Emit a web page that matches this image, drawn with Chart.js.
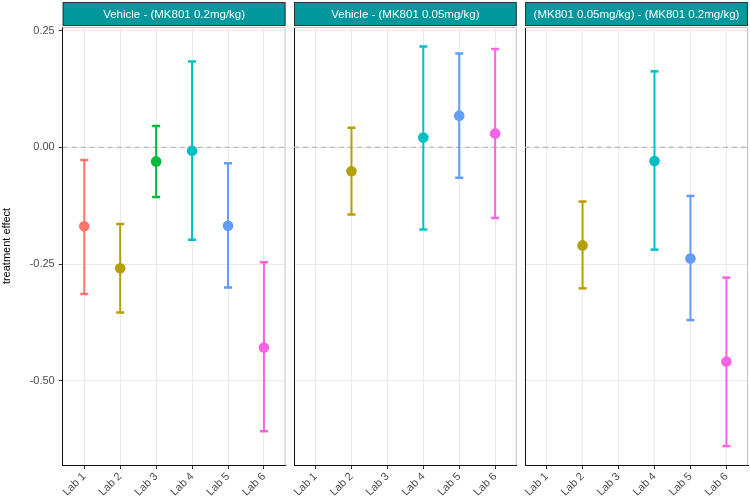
<!DOCTYPE html>
<html>
<head>
<meta charset="utf-8">
<script src="https://cdn.jsdelivr.net/npm/chart.js@4/dist/chart.umd.min.js"></script>
<style>
  html, body { margin: 0; padding: 0; background: #fff; }
  #wrap { position: relative; width: 750px; height: 501px; overflow: hidden; }
  canvas { position: absolute; top: 0; }
</style>
</head>
<body>
<div id="wrap">
  <canvas id="c1" width="290" height="501" style="left:0px"></canvas>
  <canvas id="c2" width="260" height="501" style="left:264px"></canvas>
  <canvas id="c3" width="255" height="501" style="left:495px"></canvas>
</div>
<script>
// ---- data ----
const labs = ['Lab 1', 'Lab 2', 'Lab 3', 'Lab 4', 'Lab 5', 'Lab 6'];
const panelTitles = ['Vehicle - (MK801 0.2mg/kg)', 'Vehicle - (MK801 0.05mg/kg)', '(MK801 0.05mg/kg) - (MK801 0.2mg/kg)'];
const yTicks = [-0.5, -0.25, 0, 0.25];

const est1 = [-0.169, -0.259, -0.030, -0.007, -0.168, -0.429];
const lo1  = [-0.314, -0.354, -0.106, -0.198, -0.300, -0.608];
const hi1  = [-0.027, -0.164,  0.046,  0.184, -0.034, -0.246];

const est2 = [null, -0.051, null,  0.021,  0.068,  0.030];
const lo2  = [null, -0.144, null, -0.176, -0.065, -0.151];
const hi2  = [null,  0.042, null,  0.216,  0.201,  0.211];

const est3 = [null, -0.210, null, -0.029, -0.238, -0.459];
const lo3  = [null, -0.302, null, -0.219, -0.370, -0.640];
const hi3  = [null, -0.116, null,  0.163, -0.104, -0.279];

// ---- styles ----
const labColors = ['#F8766D', '#B79F00', '#00BA38', '#00BFC4', '#619CFF', '#F564E3'];
const FONT = "'Liberation Sans', Arial, sans-serif";
Chart.defaults.font.family = FONT;
Chart.defaults.animation = false;

const Y_MIN = -0.6805, Y_MAX = 0.258;
const X_MIN = -0.6, X_MAX = 5.6;

const stripPlugin = {
  id: 'strip',
  beforeDatasetsDraw(chart, args, opts) {
    const a = chart.chartArea, ctx = chart.ctx;
    ctx.save();
    ctx.strokeStyle = '#c4c4c4';
    ctx.lineWidth = 1;
    ctx.beginPath();
    ctx.moveTo(a.left, a.top + 0.5);
    ctx.lineTo(a.right - 0.5, a.top + 0.5);
    ctx.lineTo(a.right - 0.5, a.bottom);
    ctx.stroke();
    ctx.restore();
  },
  afterDraw(chart, args, opts) {
    const a = chart.chartArea, ctx = chart.ctx;
    ctx.save();
    ctx.fillStyle = '#02989D';
    ctx.fillRect(a.left, 2, a.right - a.left, 24);
    ctx.strokeStyle = '#333333';
    ctx.lineWidth = 1;
    ctx.strokeRect(a.left + 0.5, 2.5, a.right - a.left - 1, 23);
    ctx.fillStyle = '#ffffff';
    ctx.font = '11.5px ' + FONT;
    ctx.textAlign = 'center';
    ctx.textBaseline = 'middle';
    ctx.fillText(opts.title, (a.left + a.right) / 2, 14.5);
    ctx.restore();
  }
};

function buildDatasets(est, lo, hi) {
  const ds = [];
  const pts = [], ptCols = [];
  est.forEach((v, i) => {
    if (v !== null) { pts.push({x: i, y: v}); ptCols.push(labColors[i]); }
  });
  ds.push({
    data: pts, showLine: false, pointRadius: 5.3, pointHoverRadius: 5.3,
    pointBackgroundColor: ptCols, pointBorderColor: ptCols, pointBorderWidth: 0,
    order: 0
  });
  est.forEach((v, i) => {
    if (v === null) return;
    ds.push({
      data: [{x: i, y: lo[i]}, {x: i, y: hi[i]}],
      borderColor: labColors[i], borderWidth: 2,
      pointStyle: 'line', pointRadius: 4, pointHoverRadius: 4,
      pointBorderColor: labColors[i], pointBorderWidth: 2.5,
      order: 1
    });
  });
  ds.push({
    data: [{x: X_MIN, y: 0}, {x: X_MAX, y: 0}],
    borderColor: '#b8b8b8', borderWidth: 1.2, borderDash: [5, 4],
    pointRadius: 0, order: 2
  });
  return ds;
}

function makeChart(id, title, est, lo, hi, first, padL, padR) {
  return new Chart(document.getElementById(id), {
    type: 'line',
    data: { datasets: buildDatasets(est, lo, hi) },
    plugins: [stripPlugin],
    options: {
      responsive: false,
      animation: false,
      events: [],
      layout: { autoPadding: false, padding: { left: padL, right: padR, top: 27, bottom: 0 } },
      plugins: {
        legend: { display: false },
        tooltip: { enabled: false },
        strip: { title: title }
      },
      scales: {
        x: {
          type: 'linear', min: X_MIN, max: X_MAX,
          afterBuildTicks: s => { s.ticks = labs.map((l, i) => ({ value: i })); },
          afterFit: s => { s.height = 36; s.paddingLeft = 0; s.paddingRight = 0; },
          ticks: {
            autoSkip: false, minRotation: 45, maxRotation: 45,
            color: '#4d4d4d', font: { size: 11 }, padding: 1,
            callback: v => labs[v]
          },
          grid: { color: '#ebebeb', lineWidth: 1, tickLength: 4, tickColor: '#333333', drawTicks: true },
          border: { display: true, color: '#111111', width: 1 }
        },
        y: {
          type: 'linear', min: Y_MIN, max: Y_MAX,
          afterBuildTicks: s => { s.ticks = yTicks.map(v => ({ value: v })); },
          afterFit: s => { s.width = first ? 62.7 : 0; s.paddingTop = 0; s.paddingBottom = 0; },
          ticks: {
            display: first, color: '#4d4d4d', font: { size: 11 }, padding: 4,
            callback: v => v.toFixed(2)
          },
          title: {
            display: first, text: 'treatment effect', color: '#000000',
            font: { size: 11 }, padding: 0
          },
          grid: { color: '#ebebeb', lineWidth: 1, tickLength: 4, tickColor: '#333333', drawTicks: first },
          border: { display: true, color: '#111111', width: 1 }
        }
      }
    }
  });
}

makeChart('c1', panelTitles[0], est1, lo1, hi1, true, 0, 4.5);
makeChart('c2', panelTitles[1], est2, lo2, hi2, false, 30, 7.3);
makeChart('c3', panelTitles[2], est3, lo3, hi3, false, 30, 2);
</script>
</body>
</html>
